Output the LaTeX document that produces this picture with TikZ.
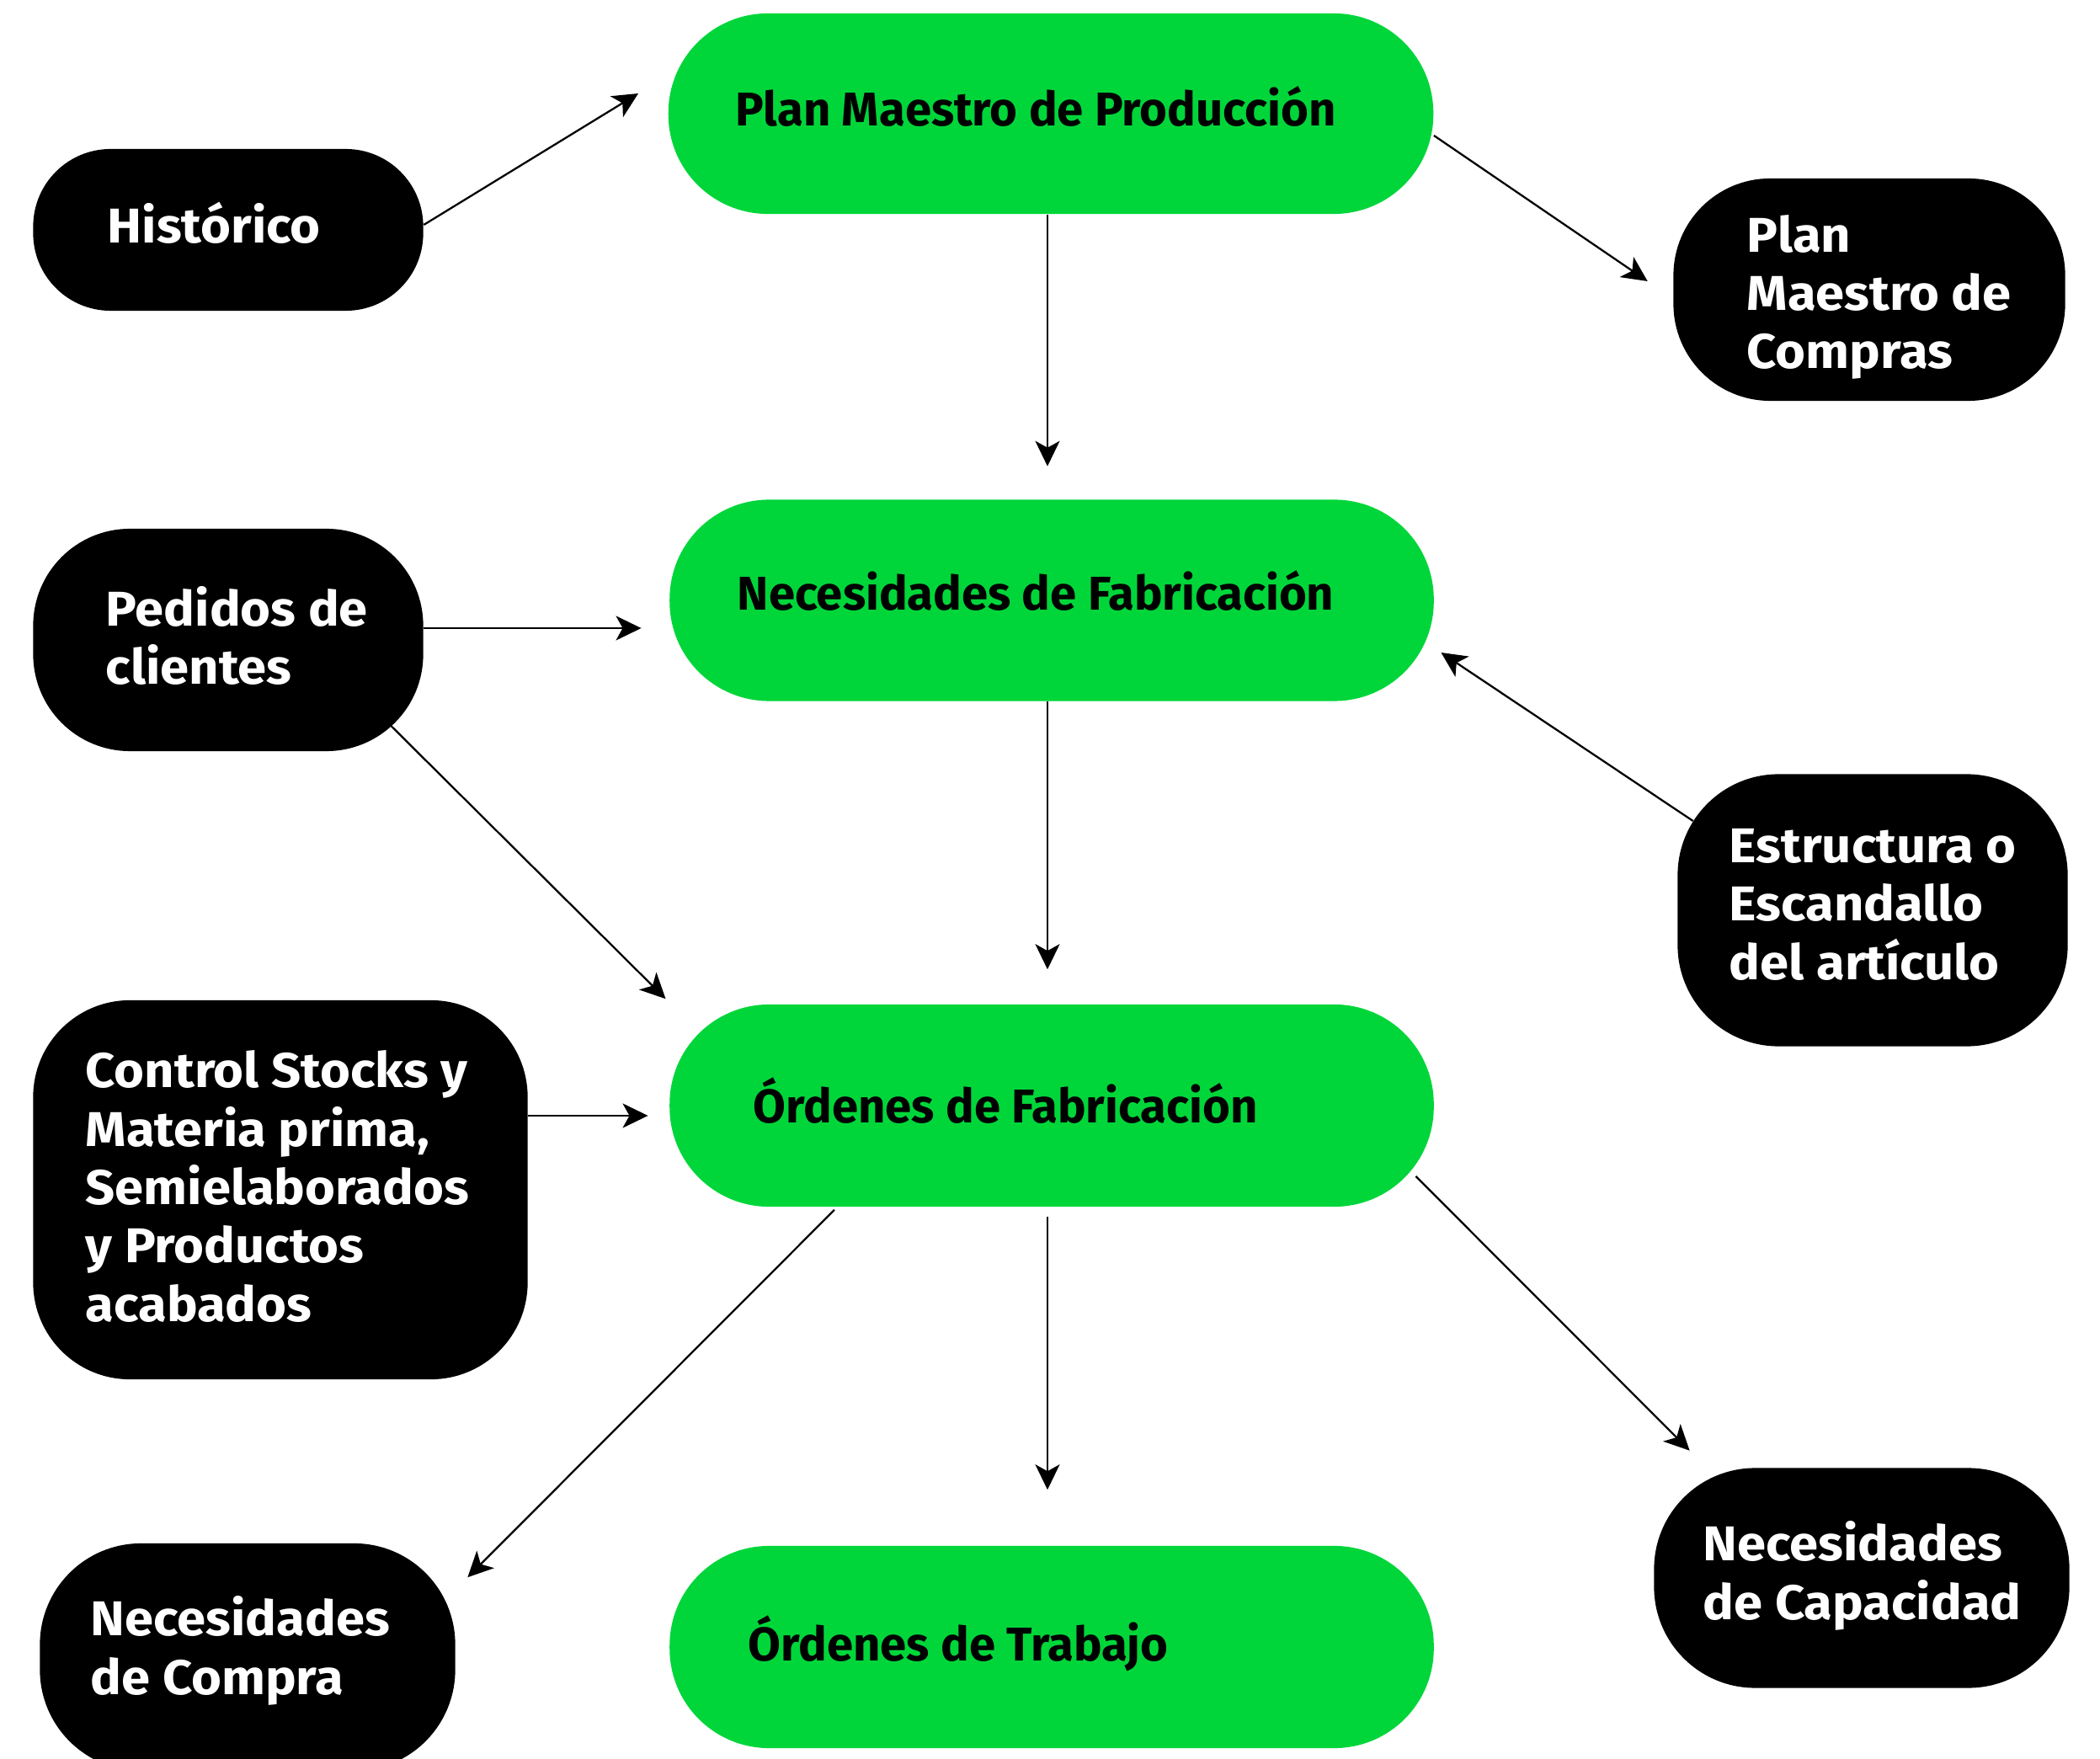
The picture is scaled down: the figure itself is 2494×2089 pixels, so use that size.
\documentclass[tikz,border=0pt]{standalone}
\usepackage{fontspec}
\setmainfont{Fira Sans}[BoldFont={Fira Sans Bold}]
\newfontfamily\widebold{Fira Sans Bold}[FakeStretch=1.06]
\usetikzlibrary{arrows.meta,calc}
\definecolor{mgreen}{RGB}{0,214,58}
\begin{document}
\begin{tikzpicture}[x=0.01cm,y=-0.01cm,
  gbox/.style={fill=mgreen,draw=none,rounded corners=1.18cm,inner sep=0pt},
  bbox/.style={fill=black,draw=none,rounded corners=1.15cm,inner sep=0pt},
  gtxt/.style={anchor=base west,inner sep=0pt,align=left,text=black,font=\bfseries\fontsize{16}{19.5}\selectfont},
  btxt/.style={anchor=base west,inner sep=0pt,align=left,text=white,font=\widebold\fontsize{16.5}{19.7}\selectfont},
  conn/.style={line width=0.65pt,-{Stealth[length=0.3cm,width=0.29cm,inset=0.08cm]}}]
\useasboundingbox (0,0) rectangle (2494,2089);
\clip (0,0) rectangle (2494,2089);
% green boxes
\node[gbox,minimum width=9.08cm,minimum height=2.38cm] (pmp) at (1248,135) {};
\node[gbox,minimum width=9.07cm,minimum height=2.39cm] (nf) at (1249,713) {};
\node[gbox,minimum width=9.07cm,minimum height=2.40cm] (of) at (1249,1313) {};
\node[gbox,minimum width=9.07cm,minimum height=2.40cm] (ot) at (1249,1956) {};
% black boxes
\node[bbox,rounded corners=0.92cm,minimum width=4.63cm,minimum height=1.92cm] (hist) at (271,273) {};
\node[bbox,minimum width=4.65cm,minimum height=2.64cm] (pmc) at (2220,344) {};
\node[bbox,minimum width=4.63cm,minimum height=2.64cm] (ped) at (271,760) {};
\node[bbox,rounded corners=1.2cm,minimum width=4.63cm,minimum height=3.23cm] (est) at (2224,1081) {};
\node[bbox,minimum width=5.87cm,minimum height=4.50cm] (ctrl) at (333,1413) {};
\node[bbox,rounded corners=1.2cm,minimum width=4.93cm,minimum height=2.70cm] (nc) at (294,1968) {};
\node[bbox,rounded corners=1.2cm,minimum width=4.93cm,minimum height=2.61cm] (ncap) at (2211,1874) {};
% texts (base west = baseline of the last line)
\node[gtxt] (pmpt) at (873,150) {Plan Maestro de Producción};
\node[gtxt] (nft) at (875,725) {Necesidades de Fabricación};
\node[gtxt] (oft) at (894,1333) {Órdenes de Fabricación};
\node[gtxt] (ott) at (888,1972) {Órdenes de Trabajo};
\node[btxt] (histt) at (127,289) {Histórico};
\node[btxt] (pmct) at (2074,438) {Plan\\Maestro de\\Compras};
\node[btxt] (pedt) at (125,813) {Pedidos de\\clientes};
\node[btxt] (estt) at (2053,1163) {Estructura o\\Escandallo\\del artículo};
\node[btxt] (ctrlt) at (101,1569) {Control Stocks y\\Materia prima,\\Semielaborados\\y Productos\\acabados};
\node[btxt] (nct) at (107,2012) {Necesidades\\de Compra};
\node[btxt] (ncapt) at (2022,1923) {Necesidades\\de Capacidad};
% connectors
\draw[conn] ($(hist.east)+(0,-6)$) -- ($(pmp.west)+(-35,-24)$);
\draw[conn] ($(pmp.east)+(0,26)$) -- ($(pmc.west)+(-30,-10)$);
\draw[conn] ($(pmp.south)+(-4,0)$) -- ($(nf.north)+(-5,-39)$);
\draw[conn] ($(ped.east)+(0,-14)$) -- ($(nf.west)+(-33,33)$);
\draw[conn] ($(ped.east)+(-42,99)$) -- ($(of.north west)+(-4,-6)$);
\draw[conn] ($(nf.south)+(-5,0)$) -- ($(of.north)+(-5,-41)$);
\draw[conn] ($(est.west)+(19,-106)$) -- ($(nf.east)+(8,62)$);
\draw[conn] ($(ctrl.east)+(0,-88)$) -- ($(of.west)+(-25,12)$);
\draw[conn] ($(of.south)+(-258,3)$) -- ($(nc.north east)+(14,41)$);
\draw[conn] ($(of.south)+(-5,11)$) -- ($(ot.north)+(-5,-66)$);
\draw[conn] ($(of.east)+(-22,84)$) -- ($(ncap.north west)+(43,-20)$);
\end{tikzpicture}
\end{document}
